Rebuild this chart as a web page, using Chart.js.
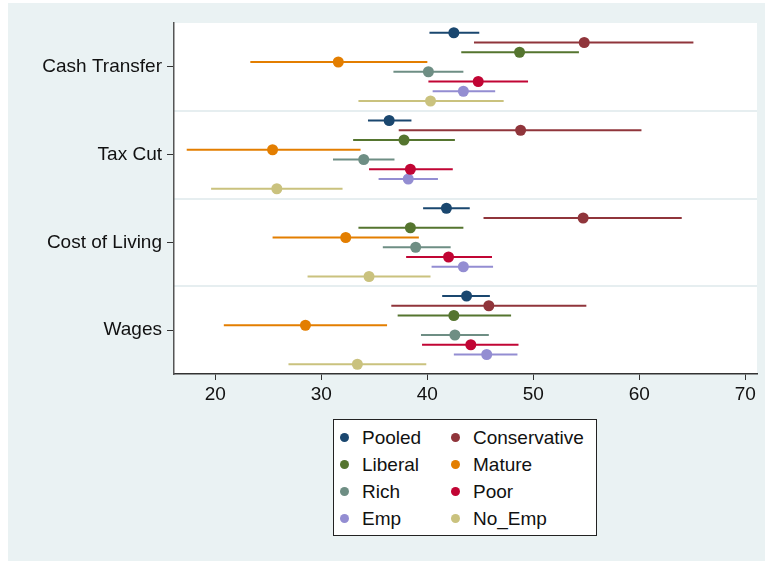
<!DOCTYPE html>
<html>
<head>
<meta charset="UTF-8">
<title>Estimates by policy</title>
<style type="text/css">
body { margin: 0; background: #fff; font-family: "Liberation Sans", Arial, sans-serif; }
#frame { position: absolute; left: 8px; top: 3px; width: 757px; height: 558px; background: #eaf2f3; }
#wrap { position: absolute; left: 0; top: 0; width: 765px; height: 561px; }
#legend { position: absolute; left: 333px; top: 419px; width: 262px; height: 115px; background: #fff; border: 1px solid #222; }
.item { position: absolute; height: 27px; line-height: 27px; font-size: 19px; color: #111; white-space: nowrap; }
.dot { position: absolute; top: 9px; width: 9px; height: 9px; border-radius: 50%; }
</style>
<script src="https://cdn.jsdelivr.net/npm/chart.js@4.4.0/dist/chart.umd.min.js"></script>
</head>
<body>
<div id="frame"></div>
<div id="wrap"><canvas id="myChart" width="765" height="561"></canvas></div>
<div id="legend"></div>
<script>
// categories, top to bottom
var categories = ['Cash Transfer', 'Tax Cut', 'Cost of Living', 'Wages'];
var groups = ['Pooled', 'Conservative', 'Liberal', 'Mature', 'Rich', 'Poor', 'Emp', 'No_Emp'];
var colors = ['rgb(26,71,111)', 'rgb(144,53,59)', 'rgb(85,117,47)', 'rgb(227,126,0)',
              'rgb(110,142,132)', 'rgb(193,5,52)', 'rgb(147,141,210)', 'rgb(202,194,126)'];
var xTicks = [20, 30, 40, 50, 60, 70];

// estimates per group, one value per category
var est = [
	[42.5, 36.4, 41.8, 43.7],
	[54.8, 48.8, 54.7, 45.8],
	[48.7, 37.8, 38.4, 42.5],
	[31.6, 25.4, 32.3, 28.5],
	[40.1, 34.0, 38.9, 42.6],
	[44.8, 38.4, 42.0, 44.1],
	[43.4, 38.2, 43.4, 45.6],
	[40.3, 25.8, 34.5, 33.4]
];
// lower bounds
var lo = [
	[40.2, 34.4, 39.6, 41.4],
	[44.4, 37.3, 45.3, 36.6],
	[43.2, 33.0, 33.5, 37.2],
	[23.3, 17.3, 25.4, 20.8],
	[36.8, 31.1, 35.8, 39.4],
	[40.1, 34.5, 38.0, 39.5],
	[40.5, 35.4, 40.4, 42.5],
	[33.5, 19.6, 28.7, 26.9]
];
// upper bounds
var hi = [
	[44.9, 38.5, 44.0, 45.9],
	[65.1, 60.2, 64.0, 55.0],
	[54.3, 42.6, 43.4, 47.9],
	[40.0, 33.7, 39.2, 36.2],
	[43.4, 36.9, 42.2, 45.8],
	[49.5, 42.4, 46.1, 48.6],
	[46.4, 41.0, 46.2, 48.5],
	[47.2, 32.0, 40.3, 39.9]
];

var slots = groups.length + 1; // rows per category band

var datasets = [];
// points (drawn on top)
for (var g = 0; g < groups.length; g++) {
	var pts = [];
	for (var c = 0; c < categories.length; c++) {
		pts.push({x: est[g][c], y: c * slots + g + 1});
	}
	datasets.push({
		label: groups[g],
		data: pts,
		pointRadius: 5.5,
		pointHoverRadius: 5.5,
		pointBackgroundColor: colors[g],
		pointBorderWidth: 0,
		showLine: false,
		order: 1
	});
}
// confidence intervals
for (var g = 0; g < groups.length; g++) {
	for (var c = 0; c < categories.length; c++) {
		var y = c * slots + g + 1;
		datasets.push({
			label: groups[g] + ' CI',
			data: [{x: lo[g][c], y: y}, {x: hi[g][c], y: y}],
			showLine: true,
			borderColor: colors[g],
			borderWidth: 2,
			pointRadius: 0,
			order: 2
		});
	}
}

// white plot region
var plotBg = {
	id: 'plotBg',
	beforeDraw: function(chart) {
		var a = chart.chartArea, c = chart.ctx;
		c.save();
		c.fillStyle = '#fff';
		c.fillRect(a.left, a.top, a.right - a.left, a.bottom - a.top);
		c.restore();
	}
};

var ctx = document.getElementById('myChart').getContext('2d');
var chart = new Chart(ctx, {
	type: 'scatter',
	data: { datasets: datasets },
	plugins: [plotBg],
	options: {
		responsive: false,
		animation: false,
		layout: { padding: { left: 0, top: 23, right: 8, bottom: 157 } },
		plugins: { legend: { display: false }, tooltip: { enabled: false } },
		scales: {
			x: {
				type: 'linear',
				min: 16.1,
				max: 71.1,
				afterBuildTicks: function(s) { s.ticks = xTicks.map(function(v) { return {value: v}; }); },
				afterFit: function(s) { s.height = 30; },
				grid: { drawOnChartArea: false, drawTicks: true, tickLength: 6, color: '#333', lineWidth: 1 },
				border: { display: true, color: '#333', width: 1.5 },
				ticks: { padding: 3, color: '#111', font: { family: 'Liberation Sans', size: 19 }, maxRotation: 0 }
			},
			y: {
				type: 'linear',
				reverse: true,
				min: 0,
				max: categories.length * slots,
				afterBuildTicks: function(s) {
					s.ticks = categories.map(function(_, i) { return {value: i * slots + slots / 2}; });
				},
				afterFit: function(s) { s.width = 174; },
				grid: { drawOnChartArea: false, drawTicks: true, tickLength: 7, color: '#333', lineWidth: 1 },
				border: { display: true, color: '#555', width: 1.5 },
				ticks: {
					autoSkip: false,
					padding: 5,
					color: '#111',
					font: { family: 'Liberation Sans', size: 19 },
					callback: function(v, i) { return categories[i]; }
				}
			},
			// separators between the category bands
			ySep: {
				type: 'linear',
				position: 'right',
				reverse: true,
				min: 0,
				max: categories.length * slots,
				afterBuildTicks: function(s) {
					var t = [];
					for (var i = 1; i < categories.length; i++) t.push({value: i * slots});
					s.ticks = t;
				},
				afterFit: function(s) { s.width = 0; },
				grid: { drawOnChartArea: true, drawTicks: false, color: '#e6eef0', lineWidth: 2 },
				border: { display: false },
				ticks: { display: false }
			}
		}
	}
});

// legend box, two columns
var legend = document.getElementById('legend');
for (var i = 0; i < groups.length; i++) {
	var col = i % 2, row = Math.floor(i / 2);
	var item = document.createElement('div');
	item.className = 'item';
	item.style.left = (col === 0 ? 6 : 117) + 'px';
	item.style.top = (4 + row * 27) + 'px';
	item.innerHTML = '<span class="dot" style="left:0;background:' + colors[i] + '"></span>' +
		'<span style="margin-left:22px">' + groups[i] + '</span>';
	legend.appendChild(item);
}
</script>
</body>
</html>
